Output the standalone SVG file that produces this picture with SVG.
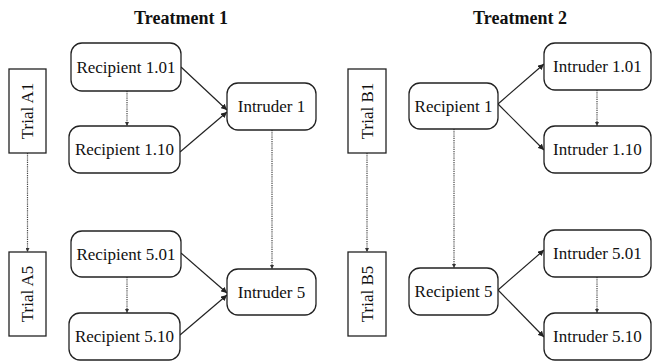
<svg xmlns="http://www.w3.org/2000/svg" width="652" height="363" viewBox="0 0 652 363">
<defs>
<style>
.box{fill:#fff;stroke:#222;stroke-width:1.3}
.lbl{font-family:"Liberation Serif","Times New Roman",serif;font-size:17px;fill:#111;text-anchor:middle;dominant-baseline:central}
.title{font-family:"Liberation Serif","Times New Roman",serif;font-size:18px;font-weight:bold;fill:#111;text-anchor:middle}
.solid{stroke:#222;stroke-width:1.2;fill:none;marker-end:url(#ah)}
.dot{stroke:#444;stroke-width:1.2;stroke-dasharray:1.2 1;fill:none;marker-end:url(#ahs)}
</style>
<marker id="ah" viewBox="0 0 10 10" refX="10" refY="5" markerWidth="6" markerHeight="6" markerUnits="userSpaceOnUse" orient="auto">
<path d="M0,0 L10,5 L0,10 z" fill="#222"/>
</marker>
<marker id="ahs" viewBox="0 0 10 10" refX="10" refY="5" markerWidth="4" markerHeight="4" markerUnits="userSpaceOnUse" orient="auto">
<path d="M0,0 L10,5 L0,10 z" fill="#333"/>
</marker>
</defs>
<rect width="652" height="363" fill="#fff"/>
<text class="title" x="181" y="24">Treatment 1</text>
<text class="title" x="520" y="24">Treatment 2</text>
<g id="connectors">
<path class="dot" d="M27.5,153 V252"/>
<path class="dot" d="M127,91 V126"/>
<path class="dot" d="M272,130 V269"/>
<path class="dot" d="M127,277 V313"/>
<path class="solid" d="M181,67 L227,110"/>
<path class="solid" d="M180,152 L227,112"/>
<path class="solid" d="M181,253 L227,293"/>
<path class="solid" d="M180,335 L227,295"/>
<path class="dot" d="M367,153 V252"/>
<path class="dot" d="M454,129 V268"/>
<path class="dot" d="M597,90 V126"/>
<path class="dot" d="M597,277 V313"/>
<path class="solid" d="M498,104 L544,64"/>
<path class="solid" d="M498,104 L544,150"/>
<path class="solid" d="M498,290 L544,250"/>
<path class="solid" d="M498,290 L544,337"/>
</g>
<g id="trialA1"><rect class="box" x="9" y="69" width="37" height="84"/><text class="lbl" transform="translate(27.5,111) rotate(-90)">Trial A1</text></g>
<g id="recipient101"><rect class="box" x="71" y="43" width="110" height="48" rx="11"/><text class="lbl" x="126" y="67">Recipient 1.01</text></g>
<g id="recipient110"><rect class="box" x="69" y="126" width="111" height="47" rx="11"/><text class="lbl" x="124.5" y="149.5">Recipient 1.10</text></g>
<g id="intruder1"><rect class="box" x="227" y="83" width="89" height="47" rx="11"/><text class="lbl" x="271.5" y="106.5">Intruder 1</text></g>
<g id="trialA5"><rect class="box" x="9" y="252" width="37" height="84"/><text class="lbl" transform="translate(27.5,294) rotate(-90)">Trial A5</text></g>
<g id="recipient501"><rect class="box" x="71" y="231" width="110" height="46" rx="11"/><text class="lbl" x="126" y="254">Recipient 5.01</text></g>
<g id="recipient510"><rect class="box" x="69" y="313" width="111" height="47" rx="11"/><text class="lbl" x="124.5" y="336.5">Recipient 5.10</text></g>
<g id="intruder5"><rect class="box" x="227" y="269" width="89" height="46" rx="11"/><text class="lbl" x="271.5" y="292">Intruder 5</text></g>
<g id="trialB1"><rect class="box" x="348" y="69" width="38" height="84"/><text class="lbl" transform="translate(367,111) rotate(-90)">Trial B1</text></g>
<g id="recipient1"><rect class="box" x="409" y="83" width="89" height="46" rx="11"/><text class="lbl" x="453.5" y="106">Recipient 1</text></g>
<g id="intruder101"><rect class="box" x="544" y="43" width="107" height="47" rx="11"/><text class="lbl" x="597.5" y="66.5">Intruder 1.01</text></g>
<g id="intruder110"><rect class="box" x="544" y="126" width="107" height="47" rx="11"/><text class="lbl" x="597.5" y="149.5">Intruder 1.10</text></g>
<g id="trialB5"><rect class="box" x="348" y="252" width="38" height="84"/><text class="lbl" transform="translate(367,294) rotate(-90)">Trial B5</text></g>
<g id="recipient5"><rect class="box" x="409" y="268" width="89" height="47" rx="11"/><text class="lbl" x="453.5" y="291.5">Recipient 5</text></g>
<g id="intruder501"><rect class="box" x="544" y="230" width="107" height="47" rx="11"/><text class="lbl" x="597.5" y="253.5">Intruder 5.01</text></g>
<g id="intruder510"><rect class="box" x="544" y="313" width="107" height="47" rx="11"/><text class="lbl" x="597.5" y="336.5">Intruder 5.10</text></g>
</svg>
